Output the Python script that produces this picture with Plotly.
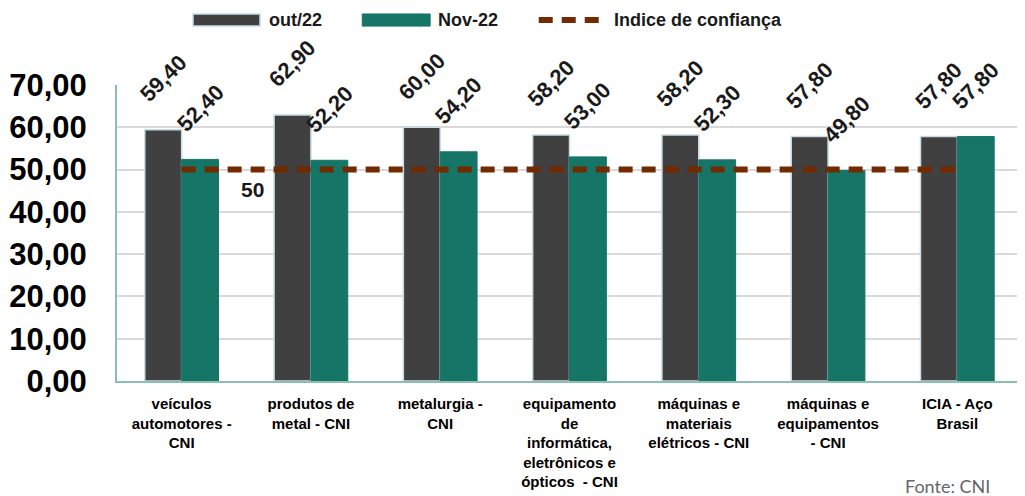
import plotly.graph_objects as go

categories = [
    "veículos<br>automotores -<br>CNI",
    "produtos de<br>metal - CNI",
    "metalurgia -<br>CNI",
    "equipamento<br>de<br>informática,<br>eletrônicos e<br>ópticos  - CNI",
    "máquinas e<br>materiais<br>elétricos - CNI",
    "máquinas e<br>equipamentos<br>- CNI",
    "ICIA - Aço<br>Brasil",
]
out22 = [59.4, 62.9, 60.0, 58.2, 58.2, 57.8, 57.8]
nov22 = [52.4, 52.2, 54.2, 53.0, 52.3, 49.8, 57.8]
indice = [50, 50, 50, 50, 50, 50, 50]

GREY = "#404040"
GREEN = "#157566"
BROWN = "#722b00"
label_font = dict(size=22, color="#1a1a1a", family="Arial", weight="bold")

fig = go.Figure()

fig.add_trace(go.Bar(
    x=categories, y=out22, name="out/22", showlegend=False,
    marker=dict(color=GREY, line=dict(color="#c6dbe6", width=1.5)),
))
fig.add_trace(go.Bar(
    x=categories, y=nov22, name="Nov-22", showlegend=False,
    marker=dict(color=GREEN, line=dict(color=GREEN, width=1)),
))
fig.add_trace(go.Scatter(
    x=categories, y=indice, name="Indice de confiança", mode="lines",
    showlegend=False,
    line=dict(color=BROWN, width=6, dash="14px,9px"),
))

# rotated value labels above each bar
half = 905 / 7 * (1 - 0.43) / 4
for cat, a, b in zip(categories, out22, nov22):
    for val, dx in ((a, -half), (b, half)):
        fig.add_annotation(x=cat, y=val, xref="x", yref="y",
                           text=f"{val:.2f}".replace(".", ","),
                           textangle=-45, showarrow=False,
                           xanchor="center", yanchor="bottom",
                           xshift=dx, yshift=20, font=label_font)

fig.add_annotation(x=0.55, y=indice[0], xref="x", yref="y", text="50",
                   showarrow=False, yshift=-20,
                   font=dict(size=21, color="#1a1a1a", family="Arial", weight="bold"))
fig.add_annotation(x=0.868, y=-0.31, xref="paper", yref="paper", text="Fonte: CNI",
                   showarrow=False, xanchor="left", yanchor="top",
                   font=dict(size=18, color="#666666", family="Lato"))

# legend drawn at the top
leg_font = dict(size=18, color="#1a1a1a", family="Arial", weight="bold")
fig.add_shape(type="rect", xref="paper", yref="paper", x0=0.084, x1=0.158,
              y0=1.199, y1=1.240, fillcolor=GREY, line=dict(color="#c6dbe6", width=1.5))
fig.add_annotation(x=0.166, y=1.22, xref="paper", yref="paper", text="out/22",
                   showarrow=False, xanchor="left", yanchor="middle", font=leg_font)
fig.add_shape(type="rect", xref="paper", yref="paper", x0=0.271, x1=0.346,
              y0=1.199, y1=1.240, fillcolor=GREEN, line=dict(color=GREEN, width=1))
fig.add_annotation(x=0.353, y=1.22, xref="paper", yref="paper", text="Nov-22",
                   showarrow=False, xanchor="left", yanchor="middle", font=leg_font)
fig.add_shape(type="line", xref="paper", yref="paper", x0=0.466, x1=0.537,
              y0=1.22, y1=1.22, line=dict(color=BROWN, width=6, dash="14px,9px"))
fig.add_annotation(x=0.547, y=1.22, xref="paper", yref="paper", text="Indice de confiança",
                   showarrow=False, xanchor="left", yanchor="middle", font=leg_font)

fig.update_layout(
    width=1025, height=496,
    margin=dict(l=109, r=11, t=77, b=123),
    paper_bgcolor="white", plot_bgcolor="white",
    separators=",.",
    barmode="group", bargap=0.43, bargroupgap=0,
    font=dict(family="Arial", color="#1a1a1a"),
    showlegend=False,
)
fig.update_yaxes(range=[0, 70], dtick=10, tickformat=".2f",
                 tickfont=dict(size=31, family="Arial", weight="bold", color="#000000"),
                 ticklabelstandoff=22, automargin=False,
                 showgrid=True, gridcolor="#d9d9d9", gridwidth=1.5,
                 showline=True, linecolor="#8cbfb2", linewidth=2,
                 ticks="", zeroline=False)
fig.update_xaxes(tickfont=dict(size=15, family="Arial", weight="bold", color="#000000"),
                 ticklabelstandoff=8, automargin=False,
                 showline=True, linecolor="#8cbfb2", linewidth=2,
                 ticks="", tickangle=0)

fig.write_html("out.html")
